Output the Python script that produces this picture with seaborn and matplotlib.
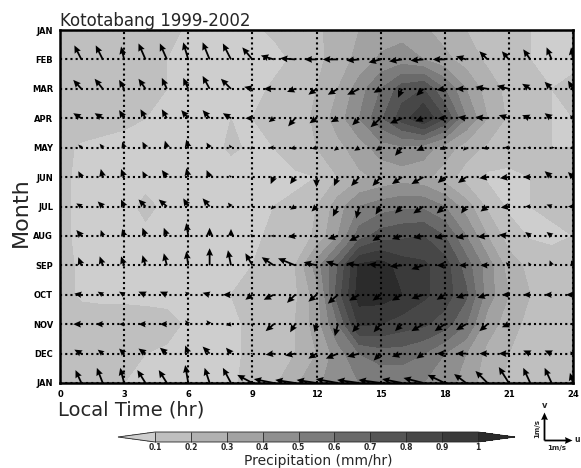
import numpy as np
import matplotlib
matplotlib.use("Agg")
import matplotlib.pyplot as plt
import seaborn as sns

# ---------------- data ----------------
months = ["JAN", "FEB", "MAR", "APR", "MAY", "JUN", "JUL",
          "AUG", "SEP", "OCT", "NOV", "DEC", "JAN"]
hours = list(range(0, 25))           # precipitation grid hours
vec_hours = list(range(1, 25))       # wind vector hours
xtick_vals = [0, 3, 6, 9, 12, 15, 18, 21, 24]
levels = [0.1, 0.2, 0.3, 0.4, 0.5, 0.6, 0.7, 0.8, 0.9, 1.0]
level_labels = ["0.1", "0.2", "0.3", "0.4", "0.5", "0.6", "0.7", "0.8", "0.9", "1"]
shade_colors = ["#cecece", "#bfbfbf", "#b1b1b1", "#a2a2a2", "#8f8f8f", "#7c7c7c",
                "#6a6a6a", "#555555", "#474747", "#3a3a3a", "#2b2b2b"]

# precipitation (mm/hr), hours 0..24
p_jan1 = [0.15,0.15,0.14,0.14,0.13,0.12,0.09,0.08,0.08,0.09,0.11,0.14,0.18,0.24,0.30,0.34,0.36,0.32,0.25,0.20,0.16,0.13,0.10,0.09,0.10]
p_feb = [0.15,0.15,0.15,0.14,0.13,0.10,0.08,0.07,0.07,0.07,0.08,0.11,0.17,0.25,0.33,0.42,0.45,0.40,0.33,0.25,0.18,0.13,0.10,0.08,0.09]
p_mar = [0.15,0.15,0.15,0.14,0.13,0.10,0.08,0.07,0.07,0.08,0.11,0.14,0.20,0.30,0.45,0.60,0.75,0.80,0.60,0.40,0.25,0.17,0.12,0.10,0.11]
p_apr = [0.15,0.14,0.13,0.12,0.10,0.08,0.07,0.07,0.10,0.10,0.11,0.15,0.22,0.35,0.50,0.68,0.85,1.00,0.80,0.50,0.30,0.18,0.12,0.10,0.10]
p_may = [0.12,0.09,0.08,0.07,0.07,0.07,0.07,0.08,0.11,0.09,0.10,0.13,0.20,0.27,0.35,0.45,0.48,0.45,0.35,0.25,0.18,0.14,0.11,0.10,0.10]
p_jun = [0.12,0.08,0.07,0.07,0.07,0.07,0.07,0.07,0.07,0.08,0.08,0.09,0.10,0.20,0.28,0.32,0.35,0.33,0.25,0.15,0.08,0.08,0.10,0.12,0.12]
p_jul = [0.12,0.08,0.07,0.07,0.12,0.08,0.07,0.07,0.07,0.08,0.10,0.11,0.20,0.35,0.50,0.55,0.58,0.58,0.50,0.35,0.18,0.08,0.10,0.12,0.12]
p_aug = [0.12,0.08,0.07,0.07,0.08,0.08,0.07,0.07,0.07,0.08,0.12,0.13,0.22,0.40,0.65,0.75,0.78,0.80,0.70,0.50,0.30,0.15,0.09,0.08,0.10]
p_sep = [0.12,0.09,0.08,0.08,0.08,0.08,0.08,0.08,0.09,0.10,0.12,0.20,0.45,0.70,1.02,1.05,0.95,0.92,0.85,0.65,0.45,0.25,0.17,0.14,0.14]
p_oct = [0.12,0.09,0.08,0.08,0.08,0.08,0.08,0.09,0.10,0.11,0.13,0.18,0.35,0.75,1.05,1.05,1.00,0.92,0.85,0.72,0.45,0.30,0.20,0.16,0.15]
p_nov = [0.10,0.13,0.14,0.14,0.13,0.12,0.09,0.08,0.09,0.11,0.13,0.20,0.35,0.60,0.92,0.90,0.85,0.82,0.75,0.60,0.35,0.25,0.16,0.13,0.12]
p_dec = [0.10,0.12,0.12,0.12,0.10,0.09,0.08,0.08,0.09,0.11,0.14,0.20,0.30,0.45,0.60,0.65,0.65,0.60,0.50,0.40,0.27,0.20,0.15,0.13,0.12]
p_jan2 = [0.14,0.13,0.12,0.10,0.09,0.08,0.08,0.08,0.09,0.12,0.18,0.28,0.38,0.45,0.50,0.52,0.52,0.50,0.45,0.35,0.25,0.18,0.14,0.13,0.13]

# wind (m/s), hours 1..24
u_jan = [-0.21,-0.21,-0.14,-0.29,-0.29,-0.11,-0.18,-0.29,-0.54,-0.71,-0.71,-0.71,-0.79,-0.79,-0.79,-0.71,-0.71,-0.61,-0.43,-0.43,-0.36,-0.25,-0.25,-0.11]
v_jan = [0.46,0.54,0.54,0.46,0.46,0.64,0.54,0.54,0.29,0.14,0.11,0.11,0.14,0.11,0.11,0.14,0.18,0.29,0.32,0.43,0.57,0.54,0.54,0.36]
u_feb = [-0.25,-0.25,-0.11,-0.25,-0.25,-0.18,-0.25,-0.29,-0.36,-0.46,-0.54,-0.43,-0.54,-0.46,-0.43,-0.46,-0.46,-0.43,-0.36,-0.29,-0.25,-0.25,-0.18,-0.07]
v_feb = [0.50,0.50,0.46,0.57,0.57,0.61,0.61,0.57,0.43,0.14,0.04,0.00,0.00,-0.04,-0.11,-0.07,-0.04,0.00,0.11,0.29,0.29,0.36,0.43,0.43]
u_mar = [-0.29,-0.29,-0.18,-0.25,-0.18,-0.18,-0.25,-0.36,-0.29,-0.36,-0.29,-0.29,-0.36,-0.43,-0.25,-0.14,-0.25,-0.29,-0.36,-0.43,-0.43,-0.29,-0.25,-0.18]
v_mar = [0.32,0.36,0.32,0.36,0.39,0.39,0.46,0.36,0.07,0.00,-0.11,-0.21,-0.21,-0.21,-0.14,-0.32,-0.25,-0.04,0.00,0.07,0.11,0.18,0.25,0.29]
u_apr = [-0.29,-0.29,-0.18,-0.18,-0.18,-0.25,-0.25,-0.29,-0.25,-0.18,-0.25,-0.25,-0.25,-0.25,-0.36,-0.43,-0.29,-0.25,-0.29,-0.43,-0.36,-0.29,-0.25,-0.11]
v_apr = [0.18,0.18,0.29,0.32,0.32,0.29,0.29,0.18,0.00,-0.14,-0.29,-0.18,-0.14,-0.25,-0.32,-0.18,-0.11,0.00,0.04,0.04,0.11,0.11,0.18,0.11]
u_may = [-0.11,-0.11,-0.07,-0.11,-0.07,-0.07,-0.11,-0.07,-0.07,-0.18,-0.18,-0.18,-0.14,-0.18,-0.18,-0.25,-0.25,-0.18,-0.11,-0.18,-0.18,-0.11,0.11,-0.07]
v_may = [0.11,0.14,0.21,0.21,0.25,0.29,0.18,0.11,-0.07,0.00,-0.04,-0.04,-0.11,-0.11,-0.11,-0.29,-0.11,-0.07,-0.11,-0.04,0.00,0.00,0.00,0.04]
u_jun = [-0.11,-0.07,-0.11,-0.11,-0.18,-0.07,-0.11,-0.07,-0.04,-0.11,-0.18,0.00,-0.14,-0.29,-0.29,-0.36,-0.43,-0.25,-0.29,-0.29,-0.32,-0.25,-0.25,-0.18]
v_jun = [0.21,0.29,0.29,0.21,0.25,0.32,0.25,0.07,-0.07,-0.25,-0.25,-0.36,-0.32,-0.32,-0.32,-0.25,-0.25,-0.21,-0.21,-0.04,-0.04,0.00,0.21,0.18]
u_jul = [-0.18,-0.18,-0.11,-0.25,-0.29,-0.18,-0.25,-0.11,-0.04,-0.11,-0.18,-0.18,-0.18,-0.11,-0.18,-0.25,-0.36,-0.29,-0.18,-0.25,-0.29,-0.18,-0.18,-0.18]
v_jul = [0.11,0.18,0.25,0.25,0.25,0.29,0.29,0.14,0.00,-0.11,-0.11,-0.18,-0.36,-0.43,-0.29,-0.25,-0.25,-0.25,-0.25,-0.18,-0.04,0.00,0.07,0.00]
u_aug = [-0.18,-0.07,-0.07,-0.11,-0.11,-0.07,0.00,0.00,-0.07,-0.11,-0.25,-0.11,-0.36,-0.36,-0.29,-0.36,-0.36,-0.36,-0.36,-0.36,-0.36,-0.18,-0.18,-0.07]
v_aug = [0.21,0.21,0.25,0.29,0.29,0.46,0.29,0.25,0.07,0.00,-0.04,-0.04,-0.11,-0.18,-0.18,-0.11,-0.07,-0.07,-0.07,-0.04,0.04,0.14,0.14,0.00]
u_sep = [-0.11,-0.11,-0.11,-0.11,-0.11,-0.07,0.00,-0.11,-0.25,-0.43,-0.61,-0.46,-0.43,-0.46,-0.43,-0.43,-0.43,-0.29,-0.25,-0.25,-0.11,-0.07,-0.07,-0.07]
v_sep = [0.29,0.32,0.32,0.36,0.43,0.50,0.61,0.54,0.43,0.29,0.25,0.11,0.14,0.07,0.04,-0.04,-0.14,0.00,0.00,0.00,0.11,0.11,0.18,0.18]
u_oct = [-0.25,-0.18,-0.18,-0.25,-0.25,-0.11,-0.25,-0.29,-0.25,-0.36,-0.29,-0.29,-0.36,-0.36,-0.29,-0.36,-0.43,-0.29,-0.36,-0.36,-0.25,-0.25,-0.25,-0.25]
v_oct = [0.04,0.11,0.11,0.11,0.11,0.11,0.07,0.00,-0.18,-0.18,-0.29,-0.25,-0.32,-0.21,-0.21,-0.21,-0.14,-0.18,-0.11,-0.11,0.00,0.00,0.00,0.00]
u_nov = [-0.29,-0.25,-0.18,-0.25,-0.25,-0.11,-0.11,-0.18,0.00,-0.29,-0.18,-0.07,-0.11,-0.25,-0.25,-0.25,-0.43,-0.36,-0.36,-0.29,-0.25,-0.11,-0.07,-0.11]
v_nov = [0.00,0.00,0.00,0.00,0.00,0.14,0.14,-0.04,-0.11,-0.25,-0.29,-0.29,-0.43,-0.29,-0.29,-0.25,-0.25,-0.25,-0.21,-0.25,-0.11,0.00,0.00,0.00]
u_dec = [-0.25,-0.18,-0.18,-0.25,-0.25,-0.11,-0.25,-0.18,-0.07,-0.29,-0.36,-0.29,-0.43,-0.43,-0.25,-0.36,-0.25,-0.29,-0.36,-0.29,-0.36,-0.25,-0.25,-0.11]
v_dec = [0.14,0.14,0.18,0.18,0.21,0.29,0.25,0.21,0.00,-0.04,-0.07,-0.18,-0.18,-0.11,-0.25,-0.11,-0.18,0.00,0.00,0.00,0.00,0.11,0.11,0.07]

# ---------------- figure ----------------
sns.set_style("white")
plt.rcParams["font.family"] = ["DejaVu Sans"]

W, H = 581, 468
fig = plt.figure(figsize=(W / 100, H / 100), dpi=100)
ax = fig.add_axes([60 / W, 1 - 383 / H, 513 / W, 353 / H])

rows = np.arange(len(months))
P = np.array([p_jan1, p_feb, p_mar, p_apr, p_may, p_jun, p_jul,
              p_aug, p_sep, p_oct, p_nov, p_dec, p_jan2])
U = np.array([u_jan, u_feb, u_mar, u_apr, u_may, u_jun, u_jul,
              u_aug, u_sep, u_oct, u_nov, u_dec, u_jan])
V = np.array([v_jan, v_feb, v_mar, v_apr, v_may, v_jun, v_jul,
              v_aug, v_sep, v_oct, v_nov, v_dec, v_jan])

cf = ax.contourf(hours, rows, P, levels=levels, colors=shade_colors,
                 extend="both", zorder=0)

XX, YY = np.meshgrid(vec_hours, rows)
px_per_ms = 28.0
Q = ax.quiver(XX, YY, U, V, angles="uv", scale_units="inches",
              scale=100.0 / px_per_ms, units="dots", width=1.8,
              headwidth=3.8, headlength=4.2, headaxislength=3.8,
              color="black", pivot="tail", zorder=3)

ax.set_xlim(0, 24)
ax.set_ylim(12, 0)
ax.set_xticks(xtick_vals)
ax.set_xticklabels([str(h) for h in xtick_vals])
ax.set_yticks(rows)
ax.set_yticklabels(months)
ax.set_axisbelow(False)
ax.grid(True, color="black", linestyle=(0, (1, 1.5)), linewidth=1.5)
for s in ax.spines.values():
    s.set_linewidth(1.8)
    s.set_color("black")
ax.tick_params(axis="both", direction="out", length=3, width=1.2,
               labelsize=6, pad=2, colors="black")
for lab in ax.get_xticklabels() + ax.get_yticklabels():
    lab.set_fontweight("bold")

# titles and labels
fig.text(60 / W, 1 - 26 / H, "Kototabang 1999-2002", fontsize=12,
         ha="left", va="baseline")
fig.text(21 / W, 1 - 212 / H, "Month", fontsize=16, rotation=90,
         ha="center", va="center")
fig.text(58 / W, 1 - 416 / H, "Local Time (hr)", fontsize=14,
         ha="left", va="baseline")

# colorbar
cax = fig.add_axes([118 / W, 1 - 442 / H, 397 / W, 10 / H])
cb = fig.colorbar(cf, cax=cax, orientation="horizontal", extendfrac=0.115,
                  drawedges=True, ticks=levels)
cb.set_ticklabels(level_labels)
cb.outline.set_linewidth(0.6)
cb.dividers.set_linewidth(0.6)
cb.ax.tick_params(length=0, labelsize=5.5, pad=1)
for lab in cb.ax.get_xticklabels():
    lab.set_fontweight("bold")
fig.text(318 / W, 1 - 465 / H, "Precipitation (mm/hr)", fontsize=10,
         ha="center", va="baseline")

# vector key (labelpos 'W' puts the arrow tail at the key position)
kx, ky = 544 / W, 1 - 440 / H
ax.quiverkey(Q, kx, ky, 1, "", coordinates="figure", angle=90,
             labelpos="W", labelsep=0.0)
ax.quiverkey(Q, kx, ky, 1, "", coordinates="figure", angle=0,
             labelpos="W", labelsep=0.0)
fig.text(545 / W, 1 - 406 / H, "v", fontsize=6, fontweight="bold",
         ha="center", va="center")
fig.text(574 / W, 1 - 439 / H, "u", fontsize=5.5, fontweight="bold",
         ha="left", va="center")
fig.text(537 / W, 1 - 428 / H, "1m/s", fontsize=5, fontweight="bold",
         rotation=90, ha="center", va="center")
fig.text(557 / W, 1 - 448 / H, "1m/s", fontsize=5, fontweight="bold",
         ha="center", va="center")

fig.savefig("out.png", dpi=100)
